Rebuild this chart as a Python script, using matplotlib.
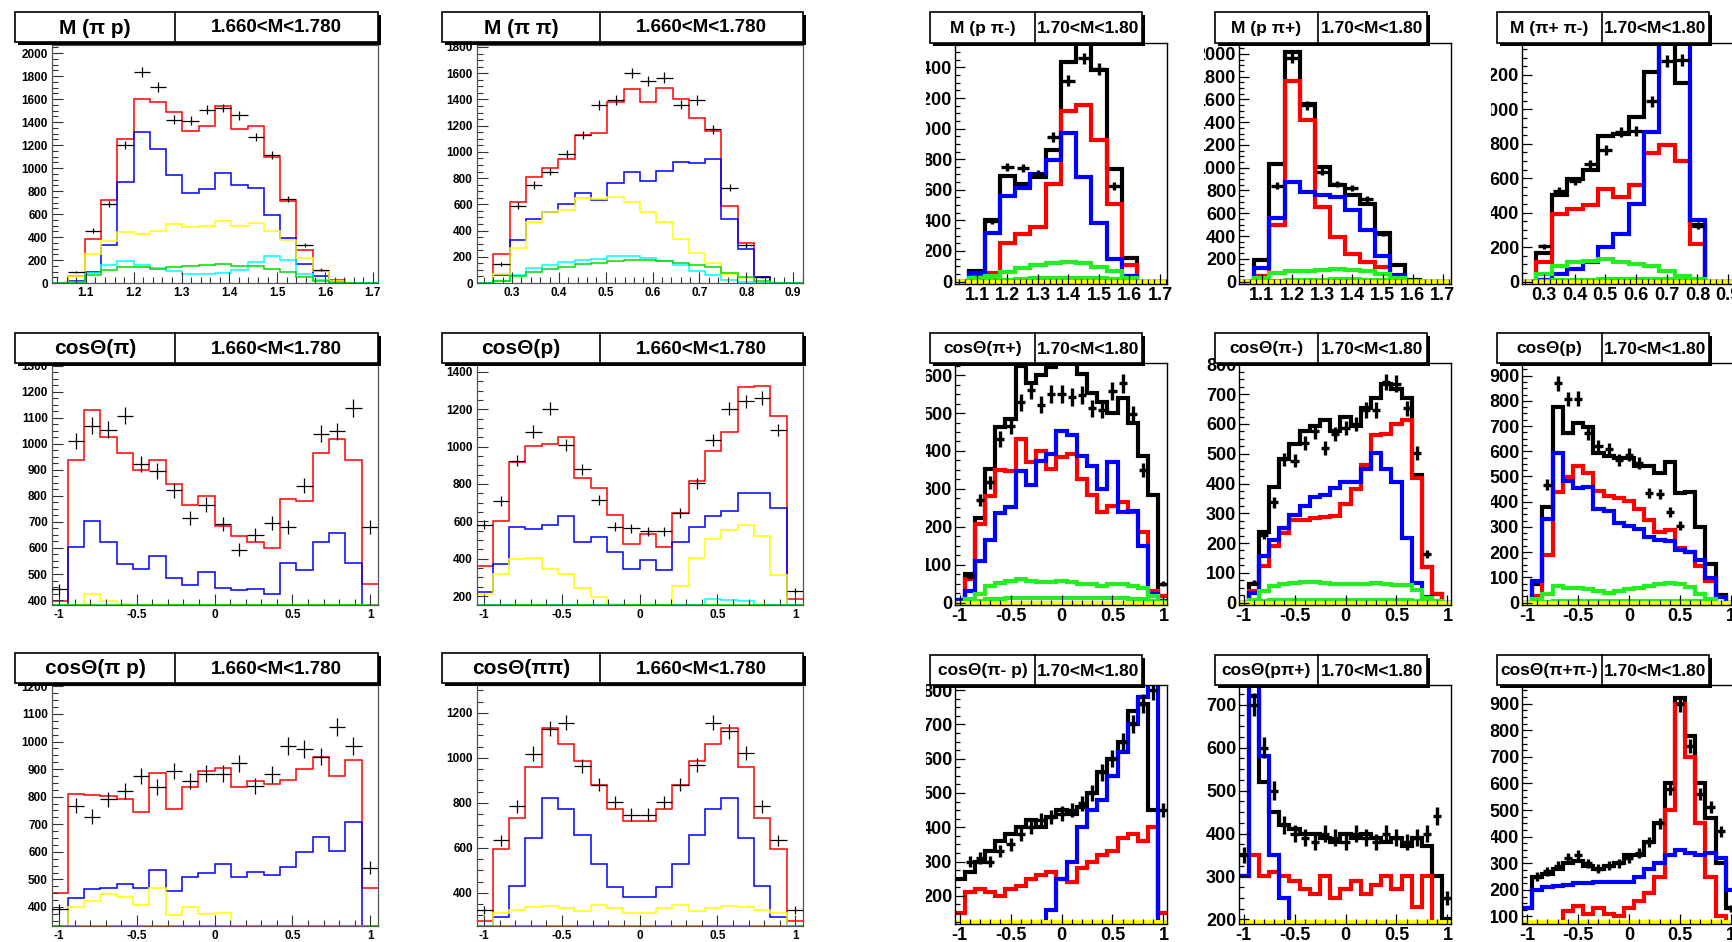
import numpy as np
import matplotlib
matplotlib.use("Agg")
import matplotlib.pyplot as plt
from matplotlib.patches import Rectangle
from matplotlib.lines import Line2D
from matplotlib.ticker import AutoMinorLocator
from matplotlib.transforms import Bbox, TransformedBbox

nan = np.nan

# ---------------- left block: thin ROOT-style fits (20 bins) ----------------
# M(pi p)
a_data = [nan, 93, 455, 690, 1203, 1832, 1704, 1420, 1412, 1507, 1522, 1458, 1270, 1116, 733, 328, 116, nan, nan, nan]
a_red = [0, 64, 385, 725, 1252, 1600, 1574, 1490, 1325, 1368, 1536, 1342, 1368, 1099, 716, 290, 101, 23, 0, 0]
a_blue = [0, 14, 93, 330, 875, 1310, 1168, 936, 783, 817, 957, 849, 826, 594, 388, 165, 58, 12, 0, 0]
a_yellow = [0, 58, 255, 365, 443, 426, 455, 513, 484, 499, 542, 493, 522, 455, 377, 217, 101, 20, 0, 0]
a_cyan = [0, 6, 87, 159, 188, 159, 130, 107, 78, 78, 87, 116, 183, 238, 203, 81, 29, 6, 0, 0]
a_green = [0, 6, 72, 110, 139, 139, 122, 136, 145, 159, 168, 151, 145, 122, 93, 52, 14, 3, 0, 0]

# M(pi pi)
b_data = [nan, 145, 591, 748, 849, 984, 1128, 1356, 1394, 1602, 1541, 1567, 1361, 1394, 1171, 728, 286, 46, nan, nan]
b_red = [0, 220, 621, 811, 880, 943, 1128, 1146, 1382, 1483, 1377, 1488, 1400, 1255, 1161, 591, 304, 46, 0, 0]
b_blue = [0, 58, 325, 487, 545, 601, 690, 634, 766, 844, 781, 854, 920, 913, 943, 487, 261, 43, 0, 0]
b_yellow = [0, 71, 266, 464, 540, 558, 647, 641, 659, 619, 545, 464, 335, 228, 152, 68, 38, 8, 0, 0]
b_cyan = [0, 18, 63, 114, 134, 157, 177, 185, 208, 203, 190, 170, 134, 94, 63, 25, 8, 0, 0, 0]
b_green = [0, 13, 51, 81, 106, 119, 145, 152, 170, 177, 177, 165, 152, 134, 119, 76, 43, 13, 0, 0]

# cos(pi)
c_data = [441, 1010, 1070, 1053, 1108, 923, 895, 821, 715, 766, 693, 594, 651, 697, 681, 838, 1038, 1048, 1137, 681]
c_red = [396, 938, 1130, 1025, 966, 900, 936, 844, 766, 798, 686, 647, 621, 600, 786, 779, 964, 1019, 936, 460]
c_blue = [0, 602, 702, 621, 538, 519, 570, 483, 457, 508, 447, 438, 441, 422, 543, 515, 621, 659, 544, 0]
c_yellow = [0, 0, 422, 395, 386, 0, 0, 0, 0, 0, 0, 0, 0, 0, 0, 0, 0, 0, 0, 0]
c_green = [0] * 20

# cos(p)
d_data = [583, 709, 925, 1081, 1203, 1010, 879, 714, 571, 562, 547, 547, 646, 804, 1033, 1203, 1242, 1260, 1090, 227]
d_red = [359, 601, 916, 1001, 1013, 1054, 834, 777, 633, 478, 530, 463, 646, 818, 979, 1081, 1319, 1323, 1165, 186]
d_blue = [221, 374, 571, 558, 583, 630, 490, 517, 436, 343, 392, 338, 490, 571, 630, 655, 753, 750, 673, 0]
d_yellow = [209, 320, 401, 406, 347, 316, 243, 195, 155, 0, 0, 0, 254, 406, 504, 553, 583, 521, 311, 0]
d_cyan = [0, 0, 0, 0, 0, 0, 0, 0, 0, 0, 0, 0, 0, 0, 186, 177, 172, 0, 0, 0]
d_green = [0] * 20

# cos(pi p)
e_data = [392, 767, 727, 790, 821, 875, 836, 893, 858, 884, 884, 921, 840, 881, 984, 973, 945, 1052, 984, 543]
e_red = [452, 809, 806, 802, 792, 745, 887, 755, 834, 892, 903, 836, 858, 846, 859, 900, 943, 875, 933, 469]
e_blue = [0, 434, 465, 467, 484, 469, 533, 458, 507, 525, 556, 509, 528, 517, 545, 600, 654, 603, 709, 0]
e_yellow = [0, 400, 422, 446, 436, 408, 469, 372, 400, 376, 379, 0, 0, 0, 0, 0, 0, 0, 0, 0]
e_green = [0] * 20

# cos(pi pi)
f_data = [326, 634, 785, 1019, 1129, 1156, 966, 881, 804, 748, 748, 804, 881, 970, 1156, 1119, 1022, 785, 634, 326]
f_red = [277, 597, 733, 959, 1133, 1062, 985, 879, 775, 719, 719, 775, 879, 985, 1062, 1133, 959, 733, 597, 277]
f_blue = [0, 293, 430, 644, 822, 775, 659, 530, 427, 381, 381, 427, 530, 659, 775, 822, 644, 430, 293, 0]
f_yellow = [0, 311, 326, 336, 344, 333, 319, 345, 333, 311, 311, 333, 345, 319, 333, 344, 336, 326, 311, 0]
f_green = [0] * 20

# ---------------- right block: thick lines (14 / 21 bins) ----------------
g_data = [nan, nan, 395, 749, 742, 701, 944, 1313, 1459, 1389, 625, nan, nan, nan]
g_black = [0, 69, 402, 690, 636, 681, 859, 1437, 1600, 1383, 734, 156, 0, 0]
g_red = [0, 48, 54, 250, 310, 358, 640, 1118, 1155, 927, 504, 109, 0, 0]
g_blue = [0, 54, 319, 558, 612, 705, 797, 972, 684, 380, 145, 33, 0, 0]
g_green = [0, 22, 33, 61, 87, 109, 119, 130, 119, 98, 69, 26, 0, 0]
g_green2 = [0, 3, 8, 12, 16, 20, 24, 26, 24, 20, 14, 6, 0, 0]

h_data = [nan, nan, 843, 1962, 1547, 965, 858, 820, 727, 420, nan, nan, nan, nan]
h_black = [0, 189, 1032, 2020, 1561, 1003, 852, 756, 683, 427, 145, 15, 0, 0]
h_red = [0, 49, 494, 1765, 1416, 654, 392, 241, 174, 131, 35, 0, 0, 0]
h_blue = [0, 116, 558, 878, 791, 756, 741, 631, 456, 224, 58, 0, 0, 0]
h_green = [0, 29, 73, 93, 96, 102, 110, 102, 93, 64, 29, 0, 0, 0]
h_green2 = [0, 4, 8, 12, 14, 16, 18, 18, 16, 12, 6, 2, 0, 0]

i_data = [nan, 206, 525, 583, 680, 764, 866, 875, 1047, 1280, 1286, 325, nan, nan]
i_black = [0, 168, 503, 598, 646, 847, 857, 957, 1219, 1390, 1152, 330, 0, 0]
i_red = [0, 111, 394, 420, 445, 537, 493, 560, 747, 795, 697, 220, 0, 0]
i_blue = [0, 6, 44, 73, 111, 201, 277, 451, 871, 1500, 1500, 359, 0, 0]
i_green = [0, 44, 92, 111, 120, 130, 111, 101, 92, 63, 34, 15, 0, 0]
i_green2 = [0, 3, 6, 8, 10, 12, 14, 15, 14, 12, 8, 3, 0, 0]

j_data = [nan, 70, 270, 317, 432, 467, 528, 561, 522, 551, 551, 542, 548, 513, 509, 559, 578, 497, 350, nan, 50]
j_black = [6, 75, 222, 352, 463, 483, 625, 578, 600, 622, 650, 650, 604, 552, 530, 500, 539, 474, 387, 283, 17]
j_red = [4, 61, 206, 281, 350, 348, 432, 371, 400, 352, 383, 391, 326, 283, 239, 255, 265, 239, 187, 30, 17]
j_blue = [6, 30, 109, 165, 237, 252, 348, 309, 374, 391, 452, 443, 387, 361, 300, 370, 239, 242, 148, 23, 4]
j_green = [0, 9, 23, 43, 52, 57, 61, 58, 54, 54, 57, 54, 50, 48, 43, 48, 48, 43, 39, 17, 0]
j_green2 = [0, 2, 5, 8, 10, 11, 12, 12, 12, 12, 12, 12, 12, 12, 12, 11, 11, 10, 9, 5, 2]

k_data = [nan, 66, 227, 337, 481, 476, 537, 575, 520, 567, 586, 600, 647, 647, 741, 736, 653, 503, 163, nan, nan]
k_black = [0, 61, 238, 387, 481, 534, 577, 594, 614, 575, 625, 594, 653, 686, 733, 716, 686, 430, 118, 28, 0]
k_red = [0, 39, 122, 190, 235, 279, 279, 285, 288, 291, 332, 382, 461, 564, 566, 600, 614, 420, 118, 28, 0]
k_blue = [0, 33, 155, 210, 249, 295, 324, 354, 363, 384, 404, 404, 448, 503, 448, 404, 216, 66, 17, 6, 0]
k_green = [0, 10, 40, 55, 62, 66, 70, 68, 66, 63, 62, 62, 63, 64, 62, 60, 58, 42, 15, 5, 0]
k_green2 = [0, 2, 5, 7, 8, 9, 9, 9, 9, 9, 9, 9, 9, 9, 9, 9, 8, 6, 3, 1, 0]

l_data = [nan, nan, 467, 870, 806, 809, 672, 620, 607, 567, 587, 554, 434, 430, 359, 304, nan, nan, nan, nan, nan]
l_black = [0, 72, 378, 776, 674, 713, 698, 593, 583, 574, 574, 541, 541, 515, 557, 433, 437, 300, 153, 29, 0]
l_red = [0, 26, 189, 437, 496, 541, 513, 443, 424, 415, 404, 372, 326, 280, 287, 215, 202, 143, 85, 22, 0]
l_blue = [0, 85, 333, 593, 483, 453, 457, 372, 363, 317, 304, 291, 261, 248, 244, 209, 202, 170, 98, 22, 0]
l_green = [0, 13, 33, 65, 59, 56, 52, 46, 39, 46, 52, 59, 65, 72, 76, 72, 61, 35, 13, 0, 0]
l_green2 = [0, 2, 4, 6, 7, 8, 8, 8, 8, 8, 8, 8, 8, 8, 8, 8, 7, 5, 2, 0, 0]

m_data = [nan, 300, 310, 300, 330, 350, 380, 400, 420, 430, 440, 450, 470, 500, 560, 600, 650, 700, 760, 800, 450]
m_black = [250, 270, 300, 330, 360, 380, 400, 420, 400, 430, 450, 440, 460, 500, 560, 600, 650, 740, 760, 450, 0]
m_red = [150, 210, 220, 210, 200, 220, 230, 250, 260, 270, 250, 240, 280, 300, 320, 330, 370, 380, 360, 400, 150]
m_blue = [0, 0, 0, 0, 0, 0, 0, 0, 0, 160, 250, 300, 400, 450, 480, 550, 620, 700, 780, 820, 0]
m_green = [0] * 21

n_data = [350, 700, 600, 500, 420, 400, 390, 380, 400, 390, 380, 400, 390, 380, 400, 390, 380, 390, 400, 440, 250]
n_black = [350, 720, 520, 450, 420, 410, 400, 400, 390, 380, 400, 390, 400, 390, 380, 390, 370, 390, 370, 300, 200]
n_red = [300, 350, 300, 310, 300, 290, 270, 260, 300, 250, 270, 290, 260, 280, 300, 270, 300, 230, 300, 150, 0]
n_blue = [300, 760, 580, 350, 250, 150, 0, 0, 0, 0, 0, 0, 0, 0, 0, 0, 0, 0, 0, 0, 0]
n_green = [0] * 21

o_data = [nan, 250, 270, 290, 320, 330, 300, 280, 290, 300, 320, 340, 380, 450, 580, 900, 740, 560, 510, 420, 130]
o_black = [130, 250, 260, 280, 300, 310, 290, 280, 290, 300, 330, 330, 380, 450, 600, 920, 780, 600, 470, 300, 130]
o_red = [0, 0, 0, 0, 120, 140, 110, 130, 110, 100, 130, 160, 190, 250, 500, 900, 700, 450, 250, 100, 0]
o_blue = [130, 200, 210, 215, 220, 225, 225, 230, 230, 230, 230, 250, 280, 300, 330, 350, 340, 330, 340, 320, 200]
o_green = [0] * 21

# ---------------- figure ----------------
plt.rcParams['font.family'] = ['Liberation Sans', 'DejaVu Sans']
plt.rcParams['font.weight'] = 'bold'
NARROW = ['Liberation Sans Narrow', 'Liberation Sans', 'DejaVu Sans']

W, H = 1733, 942
fig = plt.figure(figsize=(W / 100, H / 100), dpi=100)
fig.patch.set_facecolor('white')


def fx(x):
    return x / W


def fy(y):
    return 1 - y / H


def make_axes(x0, x1, y0, y1):
    return fig.add_axes([fx(x0), fy(y1), (x1 - x0) / W, (y1 - y0) / H])


def draw_hists(ax, edges, hists, ylo, lw):
    for vals, col in hists:
        v = np.maximum(np.asarray(vals, float), ylo)  # underflow drawn on the frame, ROOT style
        ax.stairs(v, edges, color=col, lw=lw, baseline=None)


def draw_data(ax, edges, data, lw, frac):
    d = np.asarray(data, float)
    c = 0.5 * (edges[:-1] + edges[1:])
    w = np.diff(edges)
    ok = ~np.isnan(d)
    ax.errorbar(c[ok], d[ok], xerr=frac * w[ok], yerr=np.sqrt(d[ok]), fmt='none',
                ecolor='black', elinewidth=lw, capsize=0, zorder=5)


def title_box(x0, x1, xm, y0, y1, t1, t2, fs1, fs2, fam=None):
    sh = 3
    fig.add_artist(Rectangle((fx(x0 + sh), fy(y1 + sh)), (x1 - x0) / W, (y1 - y0) / H,
                             transform=fig.transFigure, facecolor='black', edgecolor='none', zorder=10))
    fig.add_artist(Rectangle((fx(x0), fy(y1)), (x1 - x0) / W, (y1 - y0) / H,
                             transform=fig.transFigure, facecolor='white', edgecolor='black', lw=1.2, zorder=11))
    fig.add_artist(Line2D([fx(xm), fx(xm)], [fy(y0), fy(y1)], transform=fig.transFigure,
                          color='black', lw=1.2, zorder=12))
    kw = dict(ha='center', va='center', fontweight='bold', zorder=13)
    if fam:
        kw['family'] = fam
    fig.text(fx((x0 + xm) / 2), fy((y0 + y1) / 2 + 1), t1, fontsize=fs1, **kw)
    fig.text(fx((xm + x1) / 2), fy((y0 + y1) / 2 + 1), t2, fontsize=fs2, **kw)


# ---------- left panels ----------
m_pip_edges = np.linspace(1.029, 1.711, 21)
m_pipi_edges = np.linspace(0.225, 0.921, 21)
cos20_edges = np.linspace(-1.05, 1.05, 21)
cos_ticks = [-1, -0.5, 0, 0.5, 1]
cos_labels = ['-1', '-0.5', '0', '0.5', '1']

left_cols = [(52, 378, 15, 175), (477, 803, 442, 600)]
left_rows = [(45, 283, 12, 42), (363, 605, 333, 363), (685, 926, 653, 683)]

left_panels = [
    (0, 0, m_pip_edges, (1.029, 1.711), (0, 2070), np.arange(0, 2001, 200),
     [1.1, 1.2, 1.3, 1.4, 1.5, 1.6, 1.7], ['1.1', '1.2', '1.3', '1.4', '1.5', '1.6', '1.7'],
     a_data, [a_red, a_blue, a_yellow, a_cyan, a_green], 'M (\u03c0 p)'),
    (0, 1, m_pipi_edges, (0.225, 0.921), (0, 1815), np.arange(0, 1801, 200),
     [0.3, 0.4, 0.5, 0.6, 0.7, 0.8, 0.9], ['0.3', '0.4', '0.5', '0.6', '0.7', '0.8', '0.9'],
     b_data, [b_red, b_blue, b_yellow, b_cyan, b_green], 'M (\u03c0 \u03c0)'),
    (1, 0, cos20_edges, (-1.045, 1.05), (381, 1310), np.arange(400, 1301, 100),
     cos_ticks, cos_labels, c_data, [c_red, c_blue, c_yellow, None, c_green], 'cos\u0398(\u03c0)'),
    (1, 1, cos20_edges, (-1.045, 1.05), (152, 1448), np.arange(200, 1401, 200),
     cos_ticks, cos_labels, d_data, [d_red, d_blue, d_yellow, d_cyan, d_green], 'cos\u0398(p)'),
    (2, 0, cos20_edges, (-1.045, 1.05), (331, 1205), np.arange(400, 1201, 100),
     cos_ticks, cos_labels, e_data, [e_red, e_blue, e_yellow, None, e_green], 'cos\u0398(\u03c0 p)'),
    (2, 1, cos20_edges, (-1.045, 1.05), (253, 1324), np.arange(400, 1201, 200),
     cos_ticks, cos_labels, f_data, [f_red, f_blue, f_yellow, None, f_green], 'cos\u0398(\u03c0\u03c0)'),
]
left_colors = ['#ff0000', '#0000ff', '#ffff00', '#00ffff', '#00dd00']

for r, c, edges, xl, yl, yt, xt, xtl, data, hs, title in left_panels:
    x0, x1, bx0, bxm = left_cols[c]
    y0, y1, by0, by1 = left_rows[r]
    ax = make_axes(x0, x1, y0, y1)
    ax.set_xlim(*xl)
    ax.set_ylim(*yl)
    draw_data(ax, edges, data, 0.9, 0.5)
    draw_hists(ax, edges, [(v, col) for v, col in zip(hs, left_colors) if v is not None], yl[0], 1.1)
    ax.set_yticks(yt)
    ax.set_xticks(xt)
    ax.set_xticklabels(xtl)
    ax.yaxis.set_minor_locator(AutoMinorLocator(4))
    ax.xaxis.set_minor_locator(AutoMinorLocator(5))
    ax.tick_params(which='both', direction='in', top=False, right=False, width=0.8, color='#333333')
    ax.tick_params(which='major', length=8, labelsize=8.5, pad=3)
    ax.tick_params(which='minor', length=4)
    for sp in ax.spines.values():
        sp.set_color('#555555')
        sp.set_linewidth(0.9)
    title_box(bx0, x1, bxm, by0, by1, title, '1.660<M<1.780', 15, 13.5)

# ---------- right panels ----------
m14_edges = np.linspace(1.025, 1.725, 15)
mpp14_edges = np.linspace(0.226, 0.926, 15)
cos21_edges = np.linspace(-1.05, 1.05, 22)

right_cols = [(955, 1167, 930, 1035, 926), (1239, 1451, 1215, 1318, 1204), (1522, 1734, 1497, 1602, 1491)]
right_box_w = 212
right_rows = [(43, 284, 12, 43), (363, 605, 333, 363), (685, 924, 655, 685)]

m_ticks = [1.1, 1.2, 1.3, 1.4, 1.5, 1.6, 1.7]
m_labels = ['1.1', '1.2', '1.3', '1.4', '1.5', '1.6', '1.7']
mpp_ticks = [0.3, 0.4, 0.5, 0.6, 0.7, 0.8, 0.9]
mpp_labels = ['0.3', '0.4', '0.5', '0.6', '0.7', '0.8', '0.9']

right_panels = [
    (0, 0, m14_edges, (1.028, 1.723), (0, 1560), np.arange(0, 1401, 200), m_ticks, m_labels,
     g_data, [g_black, g_red, g_blue, g_green, g_green2], 'M (p \u03c0-)'),
    (0, 1, m14_edges, (1.024, 1.727), (0, 2096), np.arange(0, 2001, 200), m_ticks, m_labels,
     h_data, [h_black, h_red, h_blue, h_green, h_green2], 'M (p \u03c0+)'),
    (0, 2, mpp14_edges, (0.229, 0.919), (0, 1385), np.arange(0, 1201, 200), mpp_ticks, mpp_labels,
     i_data, [i_black, i_red, i_blue, i_green, i_green2], 'M (\u03c0+ \u03c0-)'),
    (1, 0, cos21_edges, (-1.045, 1.035), (0, 632), np.arange(0, 601, 100), cos_ticks, cos_labels,
     j_data, [j_black, j_red, j_blue, j_green, j_green2], 'cos\u0398(\u03c0+)'),
    (1, 1, cos21_edges, (-1.045, 1.035), (0, 805), np.arange(0, 801, 100), cos_ticks, cos_labels,
     k_data, [k_black, k_red, k_blue, k_green, k_green2], 'cos\u0398(\u03c0-)'),
    (1, 2, cos21_edges, (-1.05, 1.03), (0, 950), np.arange(0, 901, 100), cos_ticks, cos_labels,
     l_data, [l_black, l_red, l_blue, l_green, l_green2], 'cos\u0398(p)'),
    (2, 0, cos21_edges, (-1.045, 1.035), (125, 815), np.arange(200, 801, 100), cos_ticks, cos_labels,
     m_data, [m_black, m_red, m_blue, m_green, None], 'cos\u0398(\u03c0- p)'),
    (2, 1, cos21_edges, (-1.045, 1.035), (195, 746), np.arange(200, 701, 100), cos_ticks, cos_labels,
     n_data, [n_black, n_red, n_blue, n_green, None], 'cos\u0398(p\u03c0+)'),
    (2, 2, cos21_edges, (-1.05, 1.03), (81, 970), np.arange(100, 901, 100), cos_ticks, cos_labels,
     o_data, [o_black, o_red, o_blue, o_green, None], 'cos\u0398(\u03c0+\u03c0-)'),
]
right_colors = ['black', '#ff0000', '#0000ff', '#22ee22', '#22ee22']

for r, c, edges, xl, yl, yt, xt, xtl, data, hs, title in right_panels:
    x0, x1, bx0, bxm, clip_x = right_cols[c]
    y0, y1, by0, by1 = right_rows[r]
    ax = make_axes(x0, x1, y0, y1)
    hpx = y1 - y0
    ylo = yl[0] - 2.5 * (yl[1] - yl[0]) / hpx
    ax.set_xlim(*xl)
    ax.set_ylim(ylo, yl[1])
    draw_hists(ax, edges, [(v, col) for v, col in zip(hs, right_colors) if v is not None], ylo, 3.0)
    # yellow component sits on the frame bottom
    ax.stairs(np.full(len(edges) - 1, max(yl[0], ylo)), edges, color='#ffff00', lw=3.5, baseline=None)
    draw_data(ax, edges, data, 2.4, 0.4)
    ax.set_yticks(yt)
    ax.set_yticklabels([str(v) for v in yt])
    ax.set_xticks(xt)
    ax.set_xticklabels(xtl)
    ax.yaxis.set_minor_locator(AutoMinorLocator(4))
    ax.xaxis.set_minor_locator(AutoMinorLocator(5))
    ax.tick_params(which='both', direction='in', top=False, right=False, width=0.9)
    ax.tick_params(which='major', length=7, labelsize=13, pad=2)
    ax.tick_params(which='minor', length=3.5)
    for lbl in ax.get_xticklabels() + ax.get_yticklabels():
        lbl.set_family(NARROW)
        lbl.set_fontweight('bold')
    cb = TransformedBbox(Bbox([[fx(clip_x), 0], [1, 1]]), fig.transFigure)
    for t in ax.yaxis.get_major_ticks():
        t.label1.set_clip_box(cb)
        t.label1.set_clip_on(True)
    for sp in ax.spines.values():
        sp.set_color('black')
        sp.set_linewidth(1.0)
    title_box(bx0, bx0 + right_box_w, bxm, by0, by1, title, '1.70<M<1.80', 12.5, 12.5, NARROW)

fig.savefig('out.png', dpi=100, facecolor='white')
